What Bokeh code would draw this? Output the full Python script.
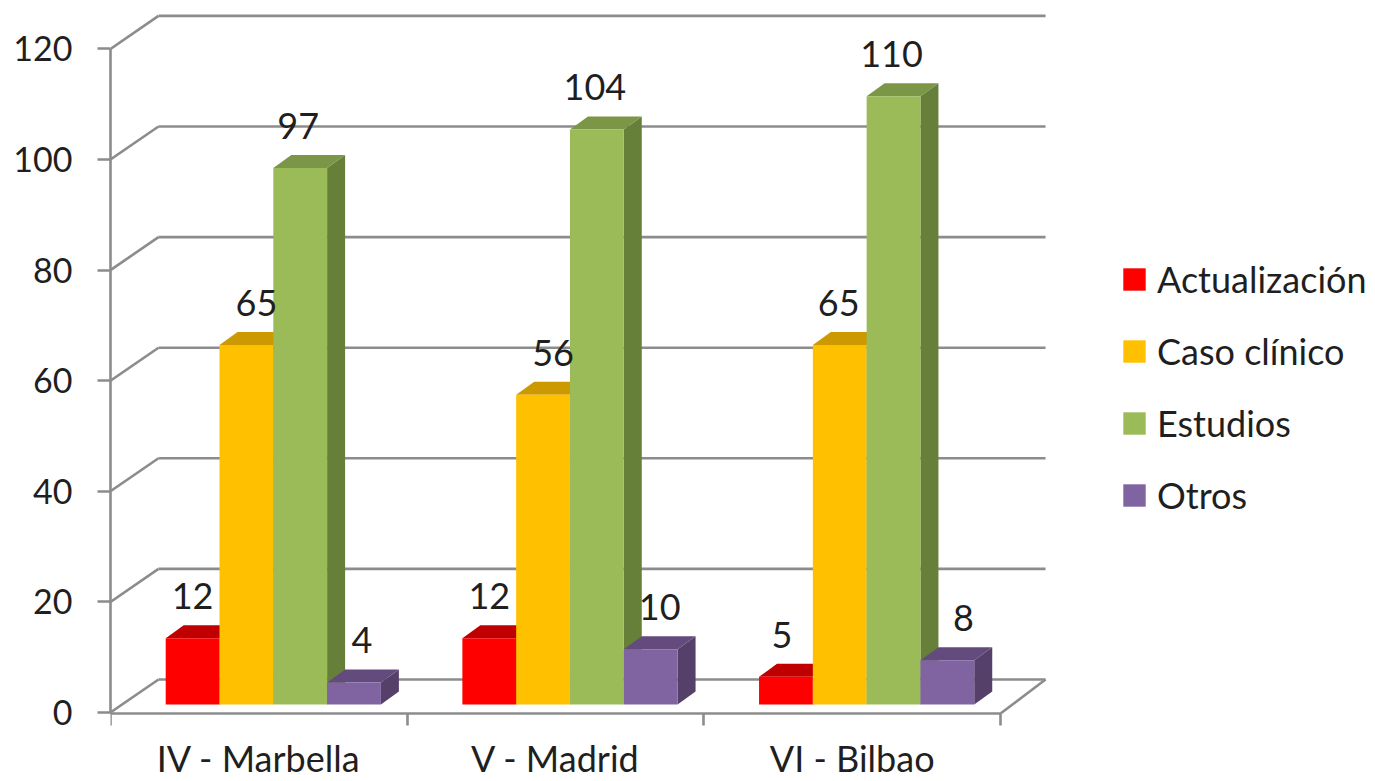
from bokeh.plotting import figure
from bokeh.models import Legend, LegendItem, FixedTicker, ColumnDataSource
from bokeh.core.properties import value
from bokeh.embed import file_html
from bokeh.resources import INLINE

categories = ["IV - Marbella", "V - Madrid", "VI - Bilbao"]
series_names = ["Actualización", "Caso clínico", "Estudios", "Otros"]
actualizacion = [12, 12, 5]
caso_clinico = [65, 56, 65]
estudios = [97, 104, 110]
otros = [4, 10, 8]
series_values = [actualizacion, caso_clinico, estudios, otros]
y_ticks = [0, 20, 40, 60, 80, 100, 120]

front_colors = ["#FF0000", "#FFC000", "#9BBB59", "#8064A2"]
top_colors = ["#C00000", "#CC9A00", "#7C9647", "#634B7E"]
side_colors = ["#A00000", "#B88B00", "#66803A", "#544068"]
grid_color = "#8C8C8C"
text_color = "#1F1F1F"
FONT = "Lato"
FS = "36px"

# pixel scale of the two axes
PX_X = 296.67
PX_Y = 5.53
label_dx = [[0, 0, -4], [10, 10, -1], [-2, -2, -2], [8, 9, 16]]

W, H = 1375, 781
fig_left = 110
zero_row = 712  # pixel row of value 0 on the front plane
x_end = (W - fig_left) / PX_X
y_start = (zero_row - H) / PX_Y
y_end = zero_row / PX_Y
axis_y = -1 / PX_Y

p = figure(width=W, height=H, output_backend="svg", toolbar_location=None,
           x_range=(0, x_end), y_range=(y_start, y_end),
           min_border_left=fig_left, min_border_bottom=0,
           min_border_top=0, min_border_right=0,
           outline_line_color=None, background_fill_color="white")
p.grid.visible = False

# axes
xa, ya = p.xaxis[0], p.yaxis[0]
xa.fixed_location = axis_y
ya.ticker = FixedTicker(ticks=y_ticks)
ya.bounds = (axis_y, 120)
ya.major_tick_in = 0
ya.major_tick_out = 13
ya.minor_tick_out = 0
ya.minor_tick_in = 0
xa.ticker = FixedTicker(ticks=[i + 0.5 for i in range(len(categories))],
                        minor_ticks=list(range(len(categories) + 1)))
xa.major_label_overrides = {i + 0.5: c for i, c in enumerate(categories)}
xa.bounds = (0, len(categories))
xa.major_tick_in = 0
xa.major_tick_out = 0
xa.minor_tick_in = 0
xa.minor_tick_out = 12
for a in (xa, ya):
    a.axis_line_color = grid_color
    a.axis_line_width = 2.6
    a.major_tick_line_color = grid_color
    a.major_tick_line_width = 2.6
    a.minor_tick_line_color = grid_color
    a.minor_tick_line_width = 2.6
    a.major_label_text_font = FONT
    a.major_label_text_font_size = FS
    a.major_label_text_color = text_color
ya.major_label_text_font_size = "34px"
ya.major_label_standoff = 25
xa.major_label_standoff = 10

# walls
wall_dx, wall_dy = 48 / PX_X, 33 / PX_Y
n = len(categories)
p.multi_line([[wall_dx, n + wall_dx - 0.01] for t in y_ticks],
             [[t + wall_dy, t + wall_dy] for t in y_ticks],
             line_color=grid_color, line_width=2.6)
p.multi_line([[0, wall_dx] for t in y_ticks], [[t, t + wall_dy] for t in y_ticks],
             line_color=grid_color, line_width=2.6)
p.line([n, n + wall_dx - 0.01], [axis_y, wall_dy], line_color=grid_color, line_width=2.6)

# bars
base = 8 / PX_Y
bar_w = 53.8 / PX_X
offset = 55.2 / PX_X
dep_x, dep_y = 18 / PX_X, 13 / PX_Y
items = []
for s, vals in enumerate(series_values):
    lefts = [i + offset + s * bar_w for i in range(n)]
    rights = [l + bar_w for l in lefts]
    tops = [base + v for v in vals]
    p.patches([[r, r + dep_x, r + dep_x, r] for r in rights],
              [[base, base + dep_y, t + dep_y, t] for t in tops],
              fill_color=side_colors[s], line_color=None)
    p.patches([[l, l + dep_x, r + dep_x, r] for l, r in zip(lefts, rights)],
              [[t, t + dep_y, t + dep_y, t] for t in tops],
              fill_color=top_colors[s], line_color=None)
    q = p.quad(left=lefts, right=rights, bottom=[base] * n, top=tops,
               fill_color=front_colors[s], line_color=None)
    items.append(LegendItem(label=series_names[s], renderers=[q]))

# data labels drawn last so they sit over the bars
for s, vals in enumerate(series_values):
    src = ColumnDataSource(dict(
        x=[i + offset + (s + 0.5) * bar_w for i in range(n)],
        y=[base + v for v in vals],
        t=[str(v) for v in vals],
        dx=label_dx[s]))
    p.text(x="x", y="y", text="t", source=src, x_offset="dx", y_offset=-42,
           text_align="center", text_baseline="middle",
           text_font=value(FONT), text_font_size=value(FS), text_color=text_color)

legend = Legend(items=items, location=(1010, 264), orientation="vertical",
                border_line_color=None, background_fill_alpha=0,
                glyph_width=28, glyph_height=28, label_standoff=9,
                label_text_font=FONT, label_text_font_size=FS,
                label_text_color=text_color, spacing=28, padding=0, margin=0)
p.add_layout(legend, "center")

open("out.html", "w").write(file_html(p, INLINE))
